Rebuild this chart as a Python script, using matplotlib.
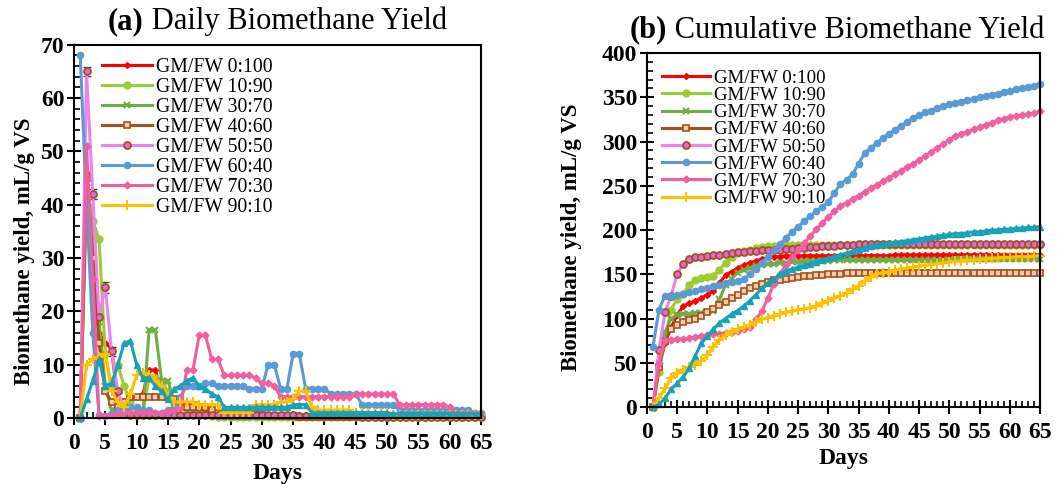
import matplotlib
matplotlib.use("Agg")
import matplotlib.pyplot as plt
from matplotlib.ticker import MultipleLocator

plt.rcParams['font.family'] = ['Liberation Serif', 'DejaVu Serif']

days = list(range(1, 66))

labels = ['GM/FW 0:100', 'GM/FW 10:90', 'GM/FW 30:70', 'GM/FW 40:60',
          'GM/FW 50:50', 'GM/FW 60:40', 'GM/FW 70:30', 'GM/FW 90:10', None]

# daily biomethane yield, mL/g VS (days 1..65)
daily_0_100 = [0, 46, 30, 16, 14, 13, 3, 2.5, 3, 4,
               4.5, 9, 9, 4.5, 4, 3.5, 3, 2.5, 2, 2,
               1.5, 1, 1, 0.8, 0.6, 0.5, 0.5, 0.5, 0.5, 0.5,
               0.4, 0.4, 0.4, 0.4, 0.4, 0.4, 0.4, 0.4, 0.4, 0.4,
               0.3, 0.3, 0.3, 0.3, 0.3, 0.3, 0.3, 0.3, 0.3, 0.3,
               0.3, 0.3, 0.3, 0.3, 0.3, 0.3, 0.3, 0.3, 0.3, 0.3,
               0.2, 0.2, 0.2, 0.2, 0.2]
daily_10_90 = [0, 40, 37, 33.5, 12, 6, 10, 6, 3, 1,
               1, 7.5, 7.5, 6, 5, 2, 2, 1.5, 1, 1,
               0.5, 0.3, 0.2, 0.2, 0.2, 0.2, 0.2, 0.2, 0.2, 0.2,
               0.2, 0.2, 0.2, 0.2, 0.2, 0.2, 0.2, 0.2, 0.2, 0.2,
               0.2, 0.2, 0.2, 0.2, 0.2, 0.2, 0.2, 0.2, 0.2, 0.2,
               0.2, 0.2, 0.2, 0.2, 0.2, 0.2, 0.2, 0.2, 0.2, 0.2,
               0.2, 0.2, 0.2, 0.2, 0.2]
daily_30_70 = [0, 44, 36, 18, 6, 1.5, 0.8, 0.5, 0.5, 0.5,
               0.5, 16.5, 16.5, 7, 7, 3, 2.5, 2, 1.5, 1,
               0.5, 0.5, 0.3, 0.2, 0.2, 0.2, 0.2, 0.2, 0.2, 0.2,
               0.2, 0.2, 0.2, 0.2, 0.2, 0.2, 0.2, 0.2, 0.2, 0.2,
               0.2, 0.2, 0.2, 0.2, 0.2, 0.2, 0.2, 0.2, 0.2, 0.2,
               0.2, 0.2, 0.2, 0.2, 0.2, 0.2, 0.2, 0.2, 0.2, 0.2,
               0.2, 0.2, 0.2, 0.2, 0.2]
daily_40_60 = [0, 45, 30, 14, 5, 3, 2, 3, 4, 4,
               4, 4, 4, 4, 4, 3.5, 3, 2, 2, 2,
               2, 1.5, 1, 1, 1, 0.8, 0.6, 0.5, 0.5, 0.5,
               0.3, 0.3, 0.3, 0.3, 0.3, 0.1, 0.1, 0.1, 0.1, 0.1,
               0.1, 0.1, 0.1, 0.1, 0.1, 0.1, 0.1, 0.1, 0.1, 0.1,
               0.1, 0.1, 0.1, 0.1, 0.1, 0.1, 0.1, 0.1, 0.1, 0.1,
               0.1, 0.1, 0.1, 0.1, 0.1]
daily_50_50 = [0, 65, 42, 19, 24.5, 12.5, 5, 1.5, 0.6, 0.6,
               0.6, 0.6, 0.6, 0.6, 0.6, 0.6, 0.6, 0.6, 0.6, 0.6,
               0.5, 0.5, 0.5, 0.5, 0.5, 0.5, 0.5, 0.5, 0.5, 0.5,
               0.5, 0.5, 0.5, 0.5, 0.5, 0.3, 0.3, 0.3, 0.3, 0.3,
               0.3, 0.3, 0.3, 0.3, 0.3, 0.1, 0.1, 0.1, 0.1, 0.1,
               0.1, 0.1, 0.1, 0.1, 0.1, 0.1, 0.1, 0.1, 0.1, 0.1,
               0.1, 0.1, 0.1, 0.1, 0.1]
daily_60_40 = [68, 40, 16, 0.5, 0.3, 1, 1.5, 1.5, 2, 2,
               1.5, 1.5, 1, 1, 1.5, 2, 4, 6, 6, 6,
               6.5, 6.5, 6, 6, 6, 6, 6, 5.5, 5.5, 5.5,
               10, 10, 5.5, 5.5, 12, 12, 5.5, 5.5, 5.5, 5.5,
               4.5, 4.5, 4.5, 4.5, 4.5, 2.5, 2.5, 2.5, 2.5, 2.5,
               2.5, 1.5, 1.5, 1.5, 1.5, 1.5, 1.5, 1.5, 1.5, 1.5,
               1.5, 1.5, 1.5, 1, 1]
daily_70_30 = [0, 51, 26, 0.3, 0.3, 0.5, 0.8, 1, 1, 1,
               1, 1, 1, 1, 1.2, 1.5, 2, 9, 9, 15.5,
               15.5, 11, 11, 8, 8, 8, 8, 8, 7.5, 6.5,
               6.5, 6, 4, 4, 4, 4, 4, 4, 4, 4,
               4, 4, 4, 4, 4.5, 4.5, 4.5, 4.5, 4.5, 4.5,
               4.5, 2.5, 2.5, 2.5, 2.5, 2.5, 2.5, 2.5, 2.5, 2,
               1, 1, 1, 1, 1]
daily_90_10 = [0, 10, 11, 11.5, 12, 5, 3, 2, 4.5, 8,
               8.5, 8, 7, 6, 4, 3, 3, 3, 3, 2.5,
               2.5, 2.5, 2.5, 1, 1, 1, 1, 1, 2.5, 2.5,
               2.5, 2.5, 3, 3, 3.5, 5, 5, 2, 1.5, 1.5,
               1.5, 1.5, 1.5, 1.5, 1, 1, 1, 1, 1, 1,
               0.5, 0.5, 0.5, 0.5, 0.5, 0.5, 0.5, 0.5, 0.5, 0.5,
               0.5, 0.5, 0.5, 0.5, 0.5]
daily_teal = [0, 3.5, 7, 11, 6, 6.5, 10, 14, 14.5, 10,
              7.5, 7.5, 6, 5, 3.5, 5.5, 6, 7, 7.5, 6,
              5.5, 4.5, 4, 2, 2, 2, 2, 2, 2, 2,
              2, 2, 2, 2, 2.5, 2.5, 2.5, 1, 1, 1,
              1, 1, 1, 1, 1, 1, 1, 1, 1, 1,
              0.8, 0.8, 0.8, 0.8, 0.8, 0.8, 0.8, 0.8, 0.8, 0.8,
              0.8, 0.8, 0.8, 0.8, 0.8]

# error bars shown on the 50:50 daily series (days 1..7)
err_50_50 = [0, 0.9, 0.9, 0.7, 1.0, 0.8, 0.4]

# cumulative biomethane yield, mL/g VS (days 1..65)
cum_0_100 = [0, 46, 72, 90, 104, 114, 117, 120, 123, 127,
             131, 140, 149, 153, 157, 160, 163, 165, 167, 169,
             170, 170, 171, 171, 171, 171, 171, 171, 171, 171,
             171, 171, 171, 171, 171, 171, 171, 171, 171, 171,
             172, 172, 172, 172, 172, 172, 172, 172, 172, 172,
             172, 172, 172, 172, 172, 172, 172, 172, 172, 172,
             172, 172, 172, 172, 172]
cum_10_90 = [0, 40, 77, 110, 122, 128, 138, 144, 146, 147,
             148, 155, 163, 169, 174, 176, 178, 180, 181, 182,
             182, 182, 183, 183, 183, 183, 183, 183, 183, 183,
             183, 183, 183, 183, 183, 183, 183, 183, 183, 183,
             183, 183, 183, 183, 183, 183, 183, 183, 183, 183,
             183, 183, 183, 183, 183, 183, 183, 183, 183, 183,
             183, 183, 183, 183, 183]
cum_30_70 = [0, 50, 85, 100, 104, 105, 105, 106, 106, 107,
             108, 122, 138, 145, 152, 155, 157, 159, 161, 162,
             162, 163, 163, 164, 164, 165, 165, 165, 165, 165,
             166, 166, 166, 166, 166, 166, 166, 166, 166, 166,
             166, 166, 166, 166, 166, 166, 166, 166, 166, 166,
             167, 167, 167, 167, 167, 167, 167, 167, 167, 167,
             167, 167, 167, 167, 167]
cum_40_60 = [0, 45, 75, 88, 93, 96, 98, 100, 103, 107,
             111, 115, 119, 123, 127, 131, 134, 137, 139, 141,
             143, 144, 145, 146, 147, 148, 148, 149, 149, 150,
             150, 150, 151, 151, 151, 151, 151, 151, 151, 151,
             151, 151, 151, 151, 151, 151, 151, 151, 151, 151,
             151, 151, 151, 151, 151, 151, 151, 151, 151, 151,
             151, 151, 151, 151, 151]
cum_50_50 = [0, 65, 107, 126, 150, 162, 167, 169, 170, 171,
             172, 172, 173, 174, 175, 175, 176, 176, 177, 177,
             178, 178, 179, 179, 180, 180, 181, 181, 182, 182,
             182, 183, 183, 183, 184, 184, 184, 184, 184, 184,
             184, 184, 184, 184, 184, 184, 184, 184, 184, 184,
             184, 184, 184, 184, 184, 184, 184, 184, 184, 184,
             184, 184, 184, 184, 184]
cum_60_40 = [68, 110, 126, 126, 127, 128, 130, 131, 133, 135,
             137, 138, 140, 141, 142, 145, 150, 156, 163, 170,
             177, 184, 191, 198, 204, 210, 216, 221, 226, 232,
             242, 252, 257, 263, 275, 287, 293, 298, 304, 309,
             313, 318, 322, 327, 330, 333, 335, 338, 340, 342,
             344, 345, 347, 348, 350, 351, 353, 354, 356, 357,
             359, 360, 362, 363, 365]
cum_70_30 = [0, 50, 76, 76, 77, 77, 78, 79, 80, 81,
             82, 83, 84, 85, 86, 88, 90, 99, 108, 123,
             139, 150, 161, 169, 177, 185, 193, 201, 208, 215,
             221, 227, 231, 235, 239, 243, 247, 251, 255, 259,
             263, 267, 271, 275, 279, 284, 288, 293, 297, 302,
             306, 309, 311, 314, 316, 319, 321, 324, 326, 328,
             329, 330, 331, 332, 334]
cum_90_10 = [0, 10, 21, 33, 38, 42, 45, 48, 52, 59,
             68, 76, 81, 85, 88, 90, 93, 96, 99, 101,
             103, 105, 107, 108, 110, 111, 112, 114, 117, 120,
             123, 126, 129, 133, 137, 142, 147, 150, 152, 153,
             155, 156, 157, 158, 159, 160, 161, 162, 163, 164,
             165, 165, 166, 166, 167, 167, 168, 168, 169, 169,
             170, 170, 170, 171, 171]
cum_teal = [0, 3, 10, 20, 27, 34, 44, 58, 72, 80,
            88, 95, 100, 105, 109, 114, 120, 127, 134, 140,
            145, 150, 154, 156, 158, 160, 162, 164, 166, 168,
            170, 172, 174, 176, 178, 180, 182, 183, 184, 185,
            186, 187, 188, 189, 190, 191, 192, 193, 194, 195,
            196, 196, 197, 198, 198, 199, 200, 200, 201, 201,
            202, 202, 203, 203, 204]

daily = [daily_0_100, daily_10_90, daily_30_70, daily_40_60, daily_50_50,
         daily_60_40, daily_70_30, daily_90_10, daily_teal]
cumulative = [cum_0_100, cum_10_90, cum_30_70, cum_40_60, cum_50_50,
              cum_60_40, cum_70_30, cum_90_10, cum_teal]

styles = [
    dict(color='#FF0000', marker='D', ms=3, mfc='#FF0000', mec='#FF0000'),
    dict(color='#9ACD32', marker='o', ms=5, mfc='#9ACD32', mec='#9ACD32'),
    dict(color='#70AD47', marker='x', ms=5, mew=1.5),
    dict(color='#A5521A', marker='s', ms=5, mfc='#F8CBAD', mec='#A5521A', mew=1.2),
    dict(color='#EE82EE', marker='o', ms=5, mfc='#E066E8', mec='#A5521A', mew=1.3),
    dict(color='#5B9BD5', marker='o', ms=4.5, mfc='#5B9BD5', mec='#5B9BD5'),
    dict(color='#F0609E', marker='D', ms=3.5, mfc='#F0609E', mec='#F0609E'),
    dict(color='#FFC000', marker='+', ms=7, mew=1.5),
    dict(color='#17A2B8', marker='^', ms=4.5, mfc='#17A2B8', mec='#17A2B8'),
]

fig = plt.figure(figsize=(10.57, 4.84), dpi=100)
ax1 = fig.add_axes([0.070, 0.1364, 0.385, 0.771])
ax2 = fig.add_axes([0.612, 0.159, 0.372, 0.7314])


def style_axes(ax, ymax, ymajor, yminor):
    ax.set_xlim(0, 65)
    ax.set_ylim(0, ymax)
    ax.xaxis.set_major_locator(MultipleLocator(5))
    ax.xaxis.set_minor_locator(MultipleLocator(1))
    ax.yaxis.set_major_locator(MultipleLocator(ymajor))
    ax.yaxis.set_minor_locator(MultipleLocator(yminor))
    ax.tick_params(which='major', direction='inout', length=10, width=1.5,
                   labelsize=17, pad=2)
    ax.tick_params(axis='x', which='major', pad=6)
    ax.tick_params(which='minor', direction='in', length=4, width=1.2)
    for lab in ax.get_xticklabels() + ax.get_yticklabels():
        lab.set_fontweight('bold')
    for sp in ax.spines.values():
        sp.set_linewidth(1.5)
    ax.set_xlabel('Days', fontsize=17, fontweight='bold')
    ax.set_ylabel('Biomethane yield, mL/g VS', fontsize=16.5, fontweight='bold')


for ys, st, lab in zip(daily, styles, labels):
    ax1.plot(days, ys, lw=2.2, label=lab, clip_on=False, **st)
ax1.errorbar(days[:7], daily_50_50[:7], yerr=err_50_50, fmt='none',
             ecolor='#404040', elinewidth=1, capsize=3, zorder=1)

for ys, st, lab in zip(cumulative, styles, labels):
    ax2.plot(days, ys, lw=2.2, label=lab, clip_on=False, **st)

style_axes(ax1, 70, 10, 2)
style_axes(ax2, 400, 50, 10)
ax1.yaxis.set_label_coords(-0.096, 0.448)
ax2.yaxis.set_label_coords(-0.165, 0.48)
ax1.xaxis.set_label_coords(0.5, -0.12)
ax2.xaxis.set_label_coords(0.5, -0.116)

handles, labs = ax1.get_legend_handles_labels()
ax1.legend(handles[:8], labs[:8], loc='upper left', bbox_to_anchor=(0.05, 0.985),
           frameon=False, fontsize=14.2, handlelength=2.5, handletextpad=0.25,
           labelspacing=0.05, borderaxespad=0, numpoints=1)
handles, labs = ax2.get_legend_handles_labels()
ax2.legend(handles[:8], labs[:8], loc='upper left', bbox_to_anchor=(0.02, 0.975),
           frameon=False, fontsize=13.6, handlelength=2.5, handletextpad=0.25,
           labelspacing=0.0, borderaxespad=0, numpoints=1)

# titles with bold panel letter
for x0, y0, letter, rest in [(108, 22, '(a)', ' Daily Biomethane Yield'),
                             (630, 30, '(b)', ' Cumulative Biomethane Yield')]:
    t = fig.text(x0 / 1057, 1 - y0 / 484, letter, fontsize=22, fontweight='bold',
                 ha='left', va='center')
    fig.add_artist(matplotlib.text.Annotation(rest, xy=(1, 0), xycoords=t,
                                              fontsize=22, ha='left', va='bottom'))

fig.savefig('out.png', dpi=100)
